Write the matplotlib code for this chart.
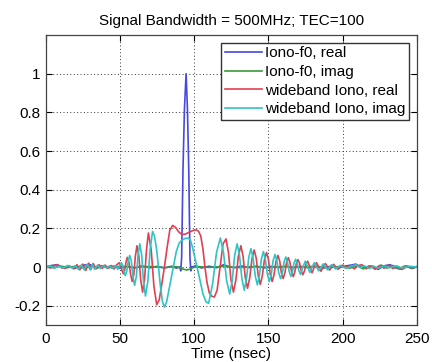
import matplotlib

matplotlib.use("Agg")
import matplotlib.pyplot as plt

plt.rcParams["font.family"] = ["Liberation Sans", "DejaVu Sans"]
plt.rcParams["font.size"] = 11

# iono-f0, real (narrow pulse at ~94.6 ns)
t_f0_real = [0, 4, 8, 11, 15, 20, 25, 30, 34, 38, 42, 46, 50, 55, 60, 65, 70, 75,
             80, 85, 88, 90.3, 91.0, 91.6, 92.5, 93.5, 94.6, 95.5, 96.4, 97.2,
             97.8, 98.5, 101, 105, 110, 115, 120, 123, 127, 132, 137, 142, 147,
             152, 157, 162, 167, 172, 177, 182, 187, 192, 197, 202, 206, 209,
             212, 216, 220, 224, 228, 232, 236, 240, 244, 247, 250]
v_f0_real = [0.0, 0.008, 0.012, -0.005, 0.006, -0.006, 0.01, 0.012, -0.005, 0.006,
             -0.004, 0.005, -0.006, 0.004, -0.005, 0.006, -0.004, 0.003, -0.005,
             0.004, -0.006, 0.0, -0.02, 0.05, 0.5, 0.82, 1.0, 0.82, 0.5, 0.05,
             -0.02, 0.0, 0.006, -0.005, 0.004, -0.004, 0.012, 0.003, -0.004,
             0.005, -0.003, 0.004, -0.004, 0.003, -0.003, 0.004, -0.004, 0.003,
             -0.004, 0.006, -0.005, 0.004, -0.006, 0.005, 0.01, 0.015, 0.0,
             -0.008, 0.005, -0.012, 0.006, 0.012, -0.005, -0.012, 0.004, -0.008,
             0.002]

# iono-f0, imag
t_f0_imag = [0, 5, 10, 15, 20, 25, 30, 35, 40, 45, 50, 60, 70, 80, 88, 91, 93, 95,
             97, 99, 102, 110, 120, 130, 140, 150, 160, 170, 180, 190, 200, 205,
             210, 214, 218, 222, 226, 230, 234, 238, 242, 246, 250]
v_f0_imag = [0.003, -0.004, 0.005, -0.003, 0.004, -0.005, 0.006, -0.004, 0.003,
             -0.005, 0.004, -0.003, 0.003, -0.003, 0.002, -0.005, -0.012, -0.015,
             -0.012, -0.004, 0.002, -0.002, 0.003, -0.003, 0.002, -0.003, 0.003,
             -0.002, 0.003, -0.004, 0.004, -0.006, 0.008, -0.01, 0.006, -0.008,
             0.01, -0.006, 0.008, -0.01, 0.006, -0.006, 0.0]

# wideband iono, real
t_wb_real = [0, 3, 6, 8, 10, 13, 16, 19, 21, 23, 25, 27, 29, 30.5, 32, 34, 36, 38,
             40, 42, 44, 46, 48, 49.5, 50.4, 51.4, 52.3, 53.2, 54.1, 55.0, 56.1,
             57.2, 58.3, 59.4, 60.4, 61.5, 62.8, 64.0, 65.3, 66.6, 67.9, 69.2,
             71.1, 72.9, 74.8, 76.5, 78.2, 80.0, 81.8, 83.6, 85.5, 87.5, 89.6,
             91.8, 94.0, 96.2, 98.4, 100.2, 101.5, 103.0, 104.5, 106.0, 107.3,
             108.7, 110.3, 112.0, 113.7, 115.5, 117.5, 119.5, 121.5, 123.2, 124.8,
             126.5, 128.2, 129.8, 131.5, 133.0, 134.5, 136.0, 137.5, 139.0, 140.5,
             141.9, 143.2, 144.6, 146.0, 147.4, 148.8, 150.1, 151.3, 152.6, 153.9,
             155.2, 156.5, 157.7, 158.8, 160.0, 161.2, 162.3, 163.5, 164.6, 165.7,
             166.8, 167.9, 168.9, 170.0, 171.1, 172.2, 173.3, 174.4, 175.4, 176.5,
             178.0, 179.5, 181.0, 182.5, 184.0, 185.5, 187.0, 188.5, 190.0, 191.3,
             192.7, 194.0, 195.5, 197.0, 198.5, 200.0, 202, 205, 208, 210, 213,
             216, 219, 222, 225, 228, 231, 234, 237, 240, 243, 246, 250]
v_wb_real = [0.005, -0.005, 0.008, 0.012, 0.0, -0.008, 0.005, -0.01, 0.012, -0.015,
             0.015, -0.018, 0.02, -0.012, 0.018, -0.01, 0.012, -0.008, 0.01,
             -0.006, 0.008, -0.01, 0.012, 0.022, 0.01, -0.018, -0.035, -0.018,
             0.025, 0.05, 0.025, -0.038, -0.075, -0.038, 0.055, 0.11, 0.055,
             -0.065, -0.13, -0.065, 0.088, 0.176, 0.088, -0.098, -0.195, -0.17,
             -0.09, 0.0, 0.1, 0.19, 0.215, 0.205, 0.182, 0.168, 0.17, 0.178, 0.186,
             0.191, 0.192, 0.185, 0.16, 0.09, 0.0, -0.08, -0.135, -0.152, -0.155,
             -0.12, 0.0, 0.12, 0.145, 0.072, -0.065, -0.13, -0.065, 0.055, 0.11,
             0.055, -0.055, -0.11, -0.055, 0.044, 0.088, 0.044, -0.045, -0.09,
             -0.045, 0.038, 0.075, 0.038, -0.038, -0.075, -0.038, 0.03, 0.06, 0.03,
             -0.03, -0.06, -0.03, 0.024, 0.048, 0.024, -0.025, -0.05, -0.025,
             0.019, 0.038, 0.019, -0.02, -0.04, -0.02, 0.015, 0.03, 0.0, -0.03,
             0.0, 0.022, 0.0, -0.022, 0.0, 0.018, 0.0, -0.016, 0.0, 0.014, 0.0,
             -0.012, 0.0, 0.01, -0.005, 0.008, -0.01, 0.006, 0.012, -0.008, 0.005,
             -0.012, 0.008, -0.006, 0.01, -0.008, 0.004, -0.01, 0.006, -0.004,
             0.002]

# wideband iono, imag
t_wb_imag = [0, 3, 6, 9, 12, 15, 18, 20, 22, 24, 26, 28, 30, 31.5, 33, 35, 37, 39,
             41, 43, 45, 47, 48.5, 49.7, 50.9, 51.8, 52.7, 53.6, 54.6, 55.6, 56.6,
             57.7, 58.8, 59.9, 61.1, 62.2, 63.4, 64.7, 65.9, 67.2, 68.8, 70.4,
             72.0, 73.3, 74.7, 76.0, 77.3, 78.7, 80.0, 81.5, 83.0, 84.5, 86.0,
             88.0, 90.0, 92.0, 94.0, 96.0, 97.5, 99.0, 100.7, 102.0, 104.0, 106.0,
             108.0, 109.8, 112.4, 115.1, 117.7, 119.8, 121.9, 124.0, 125.7, 127.3,
             129.0, 130.6, 132.2, 133.8, 135.3, 136.8, 138.3, 139.7, 141.2, 142.6,
             144.0, 145.3, 146.7, 148.0, 149.4, 150.7, 152.0, 153.2, 154.5, 155.8,
             157.0, 158.3, 159.5, 160.6, 161.8, 162.9, 164.1, 165.2, 166.3, 167.3,
             168.4, 169.5, 170.6, 171.7, 173.3, 174.9, 176.5, 178.0, 179.5, 181.0,
             182.5, 184.0, 185.5, 187.0, 188.5, 190.0, 191.4, 192.7, 194.1, 195.5,
             197.0, 198.5, 200, 203, 206, 209, 212, 215, 218, 221, 224, 228, 232,
             236, 240, 245, 250]
v_wb_imag = [-0.003, 0.006, -0.006, 0.004, -0.005, 0.008, -0.006, 0.006, -0.012,
             0.01, -0.015, 0.015, -0.015, 0.012, -0.012, 0.01, -0.008, 0.008,
             -0.006, 0.006, -0.006, 0.008, -0.012, 0.005, 0.022, 0.011, -0.022,
             -0.045, -0.022, 0.03, 0.06, 0.03, -0.048, -0.095, -0.048, 0.06, 0.12,
             0.06, -0.075, -0.15, -0.075, 0.092, 0.184, 0.16, 0.092, 0.0, -0.1,
             -0.18, -0.207, -0.18, -0.12, -0.06, 0.0, 0.08, 0.125, 0.14, 0.148,
             0.15, 0.14, 0.1, 0.04, 0.0, -0.07, -0.14, -0.18, -0.188, -0.09, 0.075,
             0.15, 0.075, -0.07, -0.14, -0.07, 0.06, 0.12, 0.06, -0.06, -0.12,
             -0.06, 0.048, 0.095, 0.048, -0.046, -0.092, -0.046, 0.04, 0.08, 0.04,
             -0.038, -0.075, -0.038, 0.032, 0.065, 0.032, -0.03, -0.06, -0.03,
             0.026, 0.052, 0.026, -0.024, -0.048, -0.024, 0.02, 0.04, 0.02, -0.019,
             -0.038, 0.0, 0.03, 0.0, -0.028, 0.0, 0.022, 0.0, -0.02, 0.0, 0.016,
             0.0, -0.015, 0.0, 0.012, 0.0, -0.01, 0.0, 0.008, 0.0, -0.006, 0.004,
             0.012, -0.004, 0.005, -0.008, 0.004, -0.006, 0.005, -0.004, 0.006,
             -0.005, 0.004, 0.0]

fig = plt.figure(figsize=(4.32, 3.62), dpi=100)
ax = fig.add_axes([0.1058, 0.1022, 0.8588, 0.8011])

ax.plot(t_f0_real, v_f0_real, color="#4848e0", lw=1.2, label="Iono-f0, real")
ax.plot(t_f0_imag, v_f0_imag, color="#3a9a3a", lw=1.2, label="Iono-f0, imag")
ax.plot(t_wb_real, v_wb_real, color="#e04050", lw=1.2, label="wideband Iono, real")
ax.plot(t_wb_imag, v_wb_imag, color="#30c4c4", lw=1.2, label="wideband Iono, imag")

ax.set_xlim(0, 250)
ax.set_ylim(-0.3, 1.2)
ax.set_xticks([0, 50, 100, 150, 200, 250])
ax.set_yticks([-0.2, 0, 0.2, 0.4, 0.6, 0.8, 1])
ax.set_yticklabels(["-0.2", "0", "0.2", "0.4", "0.6", "0.8", "1"])
ax.tick_params(direction="in", top=True, right=True, length=4, width=0.8)
ax.tick_params(axis="x", pad=5)
ax.grid(True, color="#333333", linestyle=(0, (1, 2.5)), linewidth=0.7)
for s in ax.spines.values():
    s.set_linewidth(0.9)
    s.set_color("#444444")

ax.set_title("Signal Bandwidth = 500MHz; TEC=100", fontsize=11, pad=7)
ax.set_xlabel("Time (nsec)", labelpad=1)

leg = ax.legend(loc="upper right", fancybox=False, framealpha=1, edgecolor="#333333",
                handlelength=2.4, handletextpad=0.2, labelspacing=0.3,
                borderpad=0.25, borderaxespad=0.5)
leg.get_frame().set_linewidth(1.0)

fig.savefig("out.png", dpi=100)
